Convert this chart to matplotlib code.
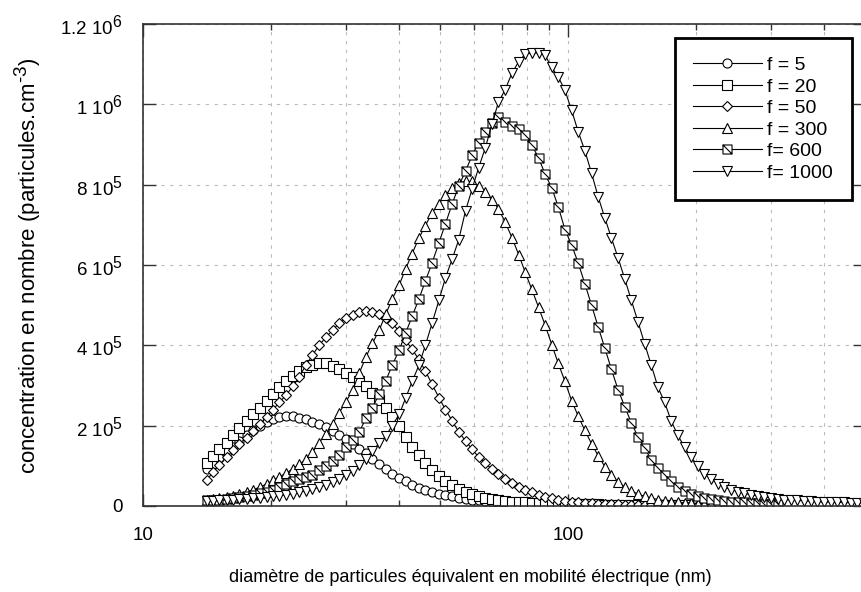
import numpy as np
import matplotlib
matplotlib.use("Agg")
import matplotlib.pyplot as plt
import matplotlib._mathtext as mtext
from matplotlib.path import Path

plt.rcParams['font.family'] = ['Liberation Sans', 'DejaVu Sans']
plt.rcParams['mathtext.fontset'] = 'custom'
plt.rcParams['mathtext.rm'] = 'Liberation Sans'
plt.rcParams['mathtext.it'] = 'Liberation Sans'
mtext.SHRINK_FACTOR = 0.85  # exposants un peu plus grands, comme l'original

# ----------------------------
# Données (diamètres SMPS en nm, concentrations en milliers)
# ----------------------------
diam = [14.1, 14.6, 15.1, 15.7, 16.3, 16.8, 17.5, 18.1, 18.8, 19.5,
        20.2, 20.9, 21.7, 22.5, 23.3, 24.1, 25.0, 25.9, 26.9, 27.9,
        28.9, 30.0, 31.1, 32.2, 33.4, 34.6, 35.9, 37.2, 38.5, 40.0,
        41.4, 42.9, 44.5, 46.1, 47.8, 49.6, 51.4, 53.3, 55.2, 57.3,
        59.4, 61.5, 63.8, 66.1, 68.5, 71.0, 73.7, 76.4, 79.1, 82.0,
        85.1, 88.2, 91.4, 94.7, 98.2, 101.8, 105.5, 109.4, 113.4, 117.6,
        121.9, 126.3, 131.0, 135.8, 140.7, 145.9, 151.2, 156.8, 162.5, 168.5,
        174.7, 181.1, 187.7, 194.6, 201.7, 209.1, 216.7, 224.7, 232.9, 241.4,
        250.3, 259.5, 269.0, 278.8, 289.0, 299.6, 310.6, 322.0, 333.8, 346.0,
        358.7, 371.8, 385.4, 399.5, 414.2, 429.4, 445.1, 461.4, 478.3, 495.8]

f5 = [91, 105, 119, 134, 148, 162, 176, 189, 200, 210,
      217, 222, 225, 224, 220, 216, 210, 204, 196, 187,
      177, 166, 154, 142, 131, 118, 105, 92, 80, 70,
      61, 53, 46, 40, 35, 31, 27, 24, 21, 18,
      16, 14, 12, 11, 10, 9, 8, 7, 6, 6,
      5, 5, 5, 4, 4, 4, 4, 3, 3, 3,
      3, 3, 3, 2, 2, 2, 2, 2, 2, 2,
      2, 2, 2, 2, 2]

f20 = [107, 124, 141, 158, 176, 194, 212, 229, 245, 262,
       279, 296, 310, 324, 336, 345, 352, 356, 355, 348,
       340, 331, 322, 312, 298, 282, 264, 244, 222, 198,
       172, 148, 126, 106, 89, 75, 63, 52, 43, 36,
       30, 25, 21, 18, 15, 13, 11, 10, 9, 8,
       7, 6, 6, 5, 5, 5, 4, 4, 4, 4,
       3, 3, 3, 3, 3, 3, 2, 2, 2, 2,
       2, 2, 2, 2, 2]

f50 = [65, 84, 103, 121, 140, 155, 170, 186, 204, 222,
       240, 258, 277, 298, 322, 350, 375, 400, 420, 438,
       455, 467, 476, 482, 485, 483, 477, 469, 455, 435,
       413, 390, 365, 336, 303, 270, 240, 212, 185, 162,
       141, 122, 106, 92, 79, 67, 57, 48, 41, 34,
       28, 23, 19, 16, 13, 11, 9, 8, 7, 6,
       5, 4, 4, 3, 3, 3, 2, 2, 2, 2,
       2, 2, 2, 2, 2]

f300 = [15, 17, 20, 23, 26, 30, 34, 40, 47, 55,
        64, 73, 82, 93, 104, 116, 134, 157, 180, 205,
        232, 260, 289, 330, 371, 405, 438, 478, 515, 550,
        590, 628, 667, 698, 730, 752, 775, 792, 804, 808,
        808, 796, 782, 762, 740, 707, 668, 626, 583, 540,
        495, 450, 402, 355, 310, 262, 224, 188, 155, 125,
        98, 77, 60, 47, 37, 30, 24, 20, 16, 13,
        11, 9, 8, 7, 6, 5, 4, 4]

f600 = [14, 15, 16, 18, 20, 22, 25, 28, 32, 36,
        41, 47, 54, 61, 67, 72, 78, 90, 100, 112,
        128, 147, 165, 184, 218, 244, 280, 312, 350, 388,
        430, 472, 515, 560, 605, 655, 703, 752, 796, 834,
        873, 904, 932, 954, 968, 955, 945, 938, 924, 899,
        867, 826, 792, 745, 688, 650, 605, 553, 500, 445,
        393, 340, 289, 247, 207, 172, 144, 115, 95, 77,
        62, 48, 38, 31, 25, 21, 18, 15, 13, 11,
        10, 9, 8, 7, 6, 6, 5]

f1000 = [12, 13, 14, 15, 16, 17, 18, 19, 20, 22,
         24, 26, 28, 31, 34, 38, 42, 47, 53, 60,
         68, 77, 88, 102, 118, 138, 156, 174, 200, 228,
         268, 310, 350, 400, 455, 512, 568, 615, 662, 735,
         790, 842, 892, 950, 1006, 1036, 1078, 1106, 1125, 1128,
         1128, 1122, 1092, 1068, 1035, 985, 932, 884, 829, 769,
         717, 667, 617, 565, 512, 458, 404, 350, 296, 258,
         211, 176, 146, 122, 99, 80, 66, 56, 47, 41,
         36, 32, 28, 25, 22, 20, 18, 16, 15, 14,
         13, 12, 11, 10, 10, 9, 9, 8, 8, 7]

labels = ['f = 5', 'f = 20', 'f = 50', 'f = 300', 'f= 600', 'f= 1000']

# marqueur carré barré
sq_diag = Path([(-1, -1), (1, -1), (1, 1), (-1, 1), (-1, -1), (-1, 1), (1, -1)],
               [Path.MOVETO, Path.LINETO, Path.LINETO, Path.LINETO, Path.CLOSEPOLY,
                Path.MOVETO, Path.LINETO])

series = [f5, f20, f50, f300, f600, f1000]
markers = ['o', 's', 'D', '^', sq_diag, 'v']
msizes = [6.5, 6.5, 5.2, 7, 6.5, 7]

# ----------------------------
# Figure
# ----------------------------
fig = plt.figure(figsize=(8.61, 5.92), dpi=100)
ax = fig.add_axes([143.3 / 861, 86 / 592, 722.1 / 861, 482 / 592])

for vals, mk, ms, lab in zip(series, markers, msizes, labels):
    x = np.array(diam[:len(vals)])
    y = np.array(vals) * 1e3
    ax.plot(x, y, color='black', lw=0.8, marker=mk, ms=ms, mfc='white',
            mec='black', mew=0.8, label=lab)

ax.set_xscale('log')
ax.set_xlim(10, 500)
ax.set_ylim(0, 1.2e6)
ax.set_xticks([10, 100])
ax.set_xticklabels(['10', '100'])
ax.set_yticks([0, 2e5, 4e5, 6e5, 8e5, 1e6, 1.2e6])
ax.set_yticklabels(['0', r'2 10$^5$', r'4 10$^5$', r'6 10$^5$', r'8 10$^5$',
                    r'1 10$^6$', r'1.2 10$^6$'])

ax.tick_params(which='major', direction='in', length=9, width=1, top=True, right=True,
               labelsize=13.5, color='#333333')
ax.tick_params(which='minor', direction='in', length=4.5, width=1, top=True, right=True,
               color='#333333')
ax.tick_params(axis='x', which='major', pad=15)
ax.tick_params(axis='y', which='major', pad=15)
ax.tick_params(axis='x', which='minor', labelbottom=False)

ax.grid(True, which='both', axis='x', ls=(0, (3, 5)), color='#bbbbbb', lw=0.8)
ax.grid(True, which='major', axis='y', ls=(0, (3, 5)), color='#bbbbbb', lw=0.8)
ax.set_axisbelow(True)
for s in ax.spines.values():
    s.set_color('#333333')
    s.set_linewidth(1.2)

leg = ax.legend(loc='upper left', bbox_to_anchor=(0.7363, 0.971), fontsize=14,
                frameon=True, fancybox=False, framealpha=1, edgecolor='black',
                handlelength=3.5, handletextpad=0.3, labelspacing=0.2,
                borderpad=0.95, borderaxespad=0)
leg.get_frame().set_linewidth(2)

fig.text(470 / 861, 1 - 577 / 592, 'diamètre de particules équivalent en mobilité électrique (nm)',
         ha='center', va='center', fontsize=13)
fig.text(28 / 861, 1 - 266 / 592, r'concentration en nombre (particules.cm$^{\text{-3}}$)',
         ha='center', va='center', rotation=90, fontsize=16)

fig.savefig('out.png', dpi=100)
